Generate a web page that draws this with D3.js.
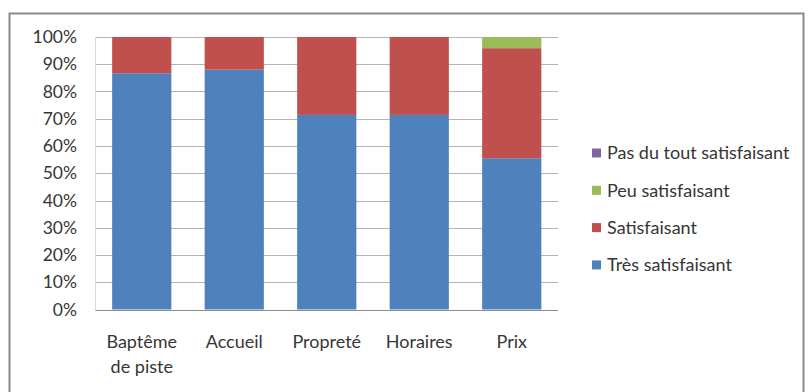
<!DOCTYPE html>
<html><head><meta charset="utf-8">
<script src="https://cdn.jsdelivr.net/npm/d3@7"></script>
<style>
html,body{margin:0;padding:0;background:#fff;}
svg{display:block;}
text{font-family:Lato,"Open Sans",sans-serif;fill:#363636;}
</style></head>
<body>
<svg id="chart" width="810" height="392"></svg>
<script>
const categories = [["Baptême","de piste"],["Accueil"],["Propreté"],["Horaires"],["Prix"]];
const seriesNames = ["Très satisfaisant","Satisfaisant","Peu satisfaisant","Pas du tout satisfaisant"];
const tresSatisfaisant = [0.867, 0.88, 0.714, 0.714, 0.555];
const satisfaisant     = [0.133, 0.12, 0.286, 0.286, 0.404];
const peuSatisfaisant  = [0, 0, 0, 0, 0.041];
const pasDuTout        = [0, 0, 0, 0, 0];
const yTicks = [0,0.1,0.2,0.3,0.4,0.5,0.6,0.7,0.8,0.9,1];
const colors = ["#4F81BD","#C0504D","#9BBB59","#8064A2"];

const svg = d3.select("#chart");
const catKeys = categories.map(c => c.join(" "));
const rows = catKeys.map((k,i) => ({cat:k, "Très satisfaisant":tresSatisfaisant[i], "Satisfaisant":satisfaisant[i], "Peu satisfaisant":peuSatisfaisant[i], "Pas du tout satisfaisant":pasDuTout[i]}));

// frame
svg.append("rect").attr("x",9.5).attr("y",13.5).attr("width",794).attr("height",400)
  .attr("fill","none").attr("stroke","#8a8a8a").attr("stroke-width",2);

const x = d3.scaleBand().domain(catKeys).range([95.5,558]).paddingInner(0.36).paddingOuter(0.18);
const y = d3.scaleLinear().domain([0,1]).range([309.5,37]);

// gridlines
svg.append("g").selectAll("line").data(yTicks).join("line")
  .attr("x1",95.5).attr("x2",558).attr("y1",d=>Math.round(y(d))+0.5).attr("y2",d=>Math.round(y(d))+0.5)
  .attr("stroke",d=>d===0?"#8c8c8c":"#b4b4b4").attr("stroke-width",1);
svg.append("line").attr("x1",95.5).attr("x2",95.5).attr("y1",37).attr("y2",310).attr("stroke","#d8d8d8");

const yAxis = d3.axisLeft(y).tickValues(yTicks).tickFormat(d3.format(".0%")).tickSize(0).tickPadding(0);
const ya = svg.append("g").attr("transform","translate(77,0)").call(yAxis);
ya.select(".domain").remove();
ya.selectAll("text").attr("font-size","17.5px").attr("fill","#363636").style("font-family","Lato");

const stack = d3.stack().keys(seriesNames);
const stacked = stack(rows);
svg.append("g").selectAll("g").data(stacked).join("g").attr("fill",(d,i)=>colors[i])
  .selectAll("rect").data(d=>d).join("rect")
  .attr("x",d=>x(d.data.cat)).attr("width",x.bandwidth())
  .attr("y",d=>y(d[1])).attr("height",d=>Math.max(0,y(d[0])-y(d[1])));

// x labels
const xl = svg.append("g");
categories.forEach((c,i)=>{
  const t = xl.append("text").attr("text-anchor","middle").attr("font-size","18px")
    .attr("x", x(catKeys[i]) + x.bandwidth()/2).attr("y",348);
  c.forEach((line,j)=>t.append("tspan").attr("x", x(catKeys[i]) + x.bandwidth()/2).attr("dy", j===0?0:25).text(line));
});

// legend
const legendOrder = [3,2,1,0];
const lg = svg.append("g");
legendOrder.forEach((si,k)=>{
  const cy = 153 + k*37.3;
  lg.append("rect").attr("x",592).attr("y",cy-4.5).attr("width",9).attr("height",9).attr("fill",colors[si]);
  lg.append("text").attr("x",607).attr("y",cy).attr("dy","0.35em").attr("font-size","18px").text(seriesNames[si]);
});
</script>
</body></html>
